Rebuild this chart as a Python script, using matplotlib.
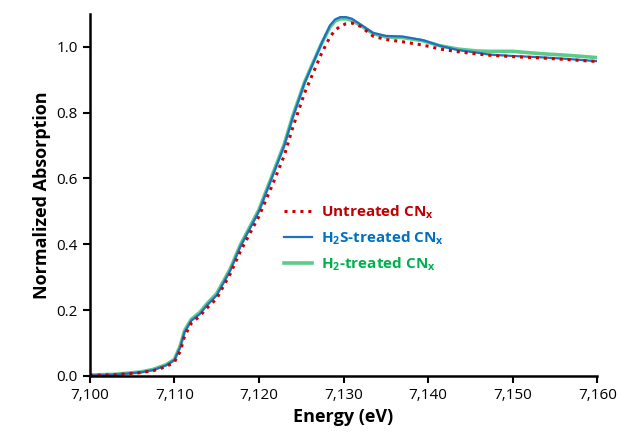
import numpy as np
import matplotlib
matplotlib.use("Agg")
import matplotlib.pyplot as plt
from matplotlib.ticker import FuncFormatter

plt.rcParams['font.family'] = ['Open Sans', 'DejaVu Sans']
plt.rcParams['mathtext.fontset'] = 'custom'
plt.rcParams['mathtext.rm'] = 'Open Sans'
plt.rcParams['mathtext.bf'] = 'Open Sans:bold'

# energy grid (eV) and normalized absorption
energy = [7100, 7103, 7106, 7107.5, 7109, 7110, 7110.7, 7111.2, 7112, 7113, 7113.8,
          7115, 7116.6, 7117.8, 7120, 7121.5, 7123, 7124, 7125.4, 7126.4, 7127.4, 7128.4,
          7129, 7129.6, 7130.3, 7131, 7132, 7133.5, 7135, 7137, 7139.4, 7141.4,
          7143.5, 7145.8, 7147.3, 7150, 7153.3, 7156.5, 7160]
untreated = [0.002, 0.004, 0.01, 0.016, 0.028, 0.042, 0.075, 0.12, 0.16, 0.182, 0.205,
             0.235, 0.31, 0.378, 0.485, 0.575, 0.67, 0.755, 0.86, 0.92, 0.98, 1.03,
             1.05, 1.062, 1.07, 1.072, 1.062, 1.032, 1.022, 1.015, 1.005, 0.993,
             0.985, 0.978, 0.974, 0.97, 0.966, 0.961, 0.955]
h2s = [0.002, 0.004, 0.011, 0.018, 0.032, 0.048, 0.088, 0.133, 0.168, 0.188, 0.213,
       0.245, 0.32, 0.393, 0.50, 0.60, 0.70, 0.785, 0.89, 0.95, 1.01, 1.065,
       1.083, 1.09, 1.09, 1.085, 1.068, 1.042, 1.033, 1.031, 1.02, 1.003,
       0.99, 0.982, 0.976, 0.972, 0.968, 0.963, 0.956]
h2 = [0.003, 0.005, 0.012, 0.02, 0.034, 0.05, 0.092, 0.137, 0.172, 0.193, 0.218,
      0.25, 0.325, 0.398, 0.505, 0.605, 0.705, 0.79, 0.893, 0.952, 1.01, 1.06,
      1.078, 1.085, 1.085, 1.08, 1.065, 1.04, 1.03, 1.028, 1.018, 1.003,
      0.993, 0.987, 0.986, 0.986, 0.979, 0.974, 0.967]

fig = plt.figure(figsize=(6.19, 4.46), dpi=100)
ax = fig.add_axes([0.145, 0.157, 0.82, 0.812])

ax.plot(energy, h2, color='#5CCB8A', lw=2.6, label=r'H$_\mathbf{2}$-treated CN$_\mathbf{x}$')
ax.plot(energy, h2s, color='#1F6FC5', lw=1.6, label=r'H$_\mathbf{2}$S-treated CN$_\mathbf{x}$')
ax.plot(energy, untreated, color='#D00000', lw=2.2, ls=(0, (1, 1.6)),
        label=r'Untreated CN$_\mathbf{x}$')

ax.set_xlim(7100, 7160)
ax.set_ylim(0, 1.1)
ax.set_xticks(np.arange(7100, 7161, 10))
ax.set_yticks(np.arange(0, 1.01, 0.2))
ax.xaxis.set_major_formatter(FuncFormatter(lambda v, p: f'{int(v):,}'))
ax.yaxis.set_major_formatter(FuncFormatter(lambda v, p: f'{v:.1f}'))
ax.tick_params(labelsize=11, width=1.5, length=5, direction='out')
for s in ['top', 'right']:
    ax.spines[s].set_visible(False)
for s in ['left', 'bottom']:
    ax.spines[s].set_linewidth(1.8)

ax.set_xlabel('Energy (eV)', fontsize=13, fontweight='bold')
ax.set_ylabel('Normalized Absorption', fontsize=13, fontweight='bold')

handles, labels = ax.get_legend_handles_labels()
order = [2, 1, 0]
leg = ax.legend([handles[i] for i in order], [labels[i] for i in order],
                loc='upper left', bbox_to_anchor=(0.356, 0.515), frameon=False,
                prop={'weight': 'bold', 'size': 11}, handlelength=1.8,
                labelspacing=0.55, handletextpad=0.6)
text_colors = ['#C00000', '#0070C0', '#00B050']
for t, c in zip(leg.get_texts(), text_colors):
    t.set_color(c)

fig.savefig('out.png', dpi=100)
